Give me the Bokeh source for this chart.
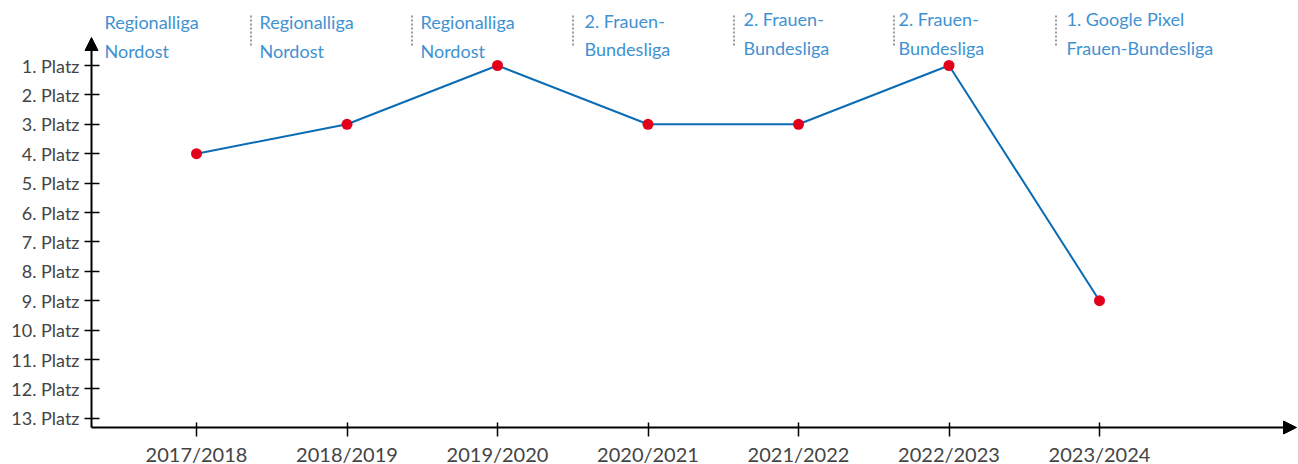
from bokeh.plotting import figure
from bokeh.models import Range1d, FixedTicker, Arrow, NormalHead
from bokeh.core.properties import value
from bokeh.embed import file_html
from bokeh.resources import INLINE

# ---------------- data ----------------
seasons = ["2017/2018", "2018/2019", "2019/2020", "2020/2021",
           "2021/2022", "2022/2023", "2023/2024"]
places = [4, 3, 1, 3, 3, 1, 9]
league_line1 = ["Regionalliga", "Regionalliga", "Regionalliga", "2. Frauen-",
                "2. Frauen-", "2. Frauen-", "1. Google Pixel"]
league_line2 = ["Nordost", "Nordost", "Nordost", "Bundesliga",
                "Bundesliga", "Bundesliga", "Frauen-Bundesliga"]
rank_ticks = [1, 2, 3, 4, 5, 6, 7, 8, 9, 10, 11, 12, 13]
rank_labels = ["1. Platz", "2. Platz", "3. Platz", "4. Platz", "5. Platz",
               "6. Platz", "7. Platz", "8. Platz", "9. Platz", "10. Platz",
               "11. Platz", "12. Platz", "13. Platz"]

# ---------------- layout ----------------
W, H = 1298, 464
X0PX, DX = 196, 150.5            # px of first season, px per season
Y1PX, DY = 65, 29.4              # px of rank 1, px per rank
AXIS_X, AXIS_Y = 91, 427         # px of the two axis lines


def xd(px):   # canvas px -> data x
    return (px - X0PX) / DX


def yd(py):   # canvas px -> data y
    return 1 + (py - Y1PX) / DY


label_px = [104, 259, 420, 584, 743, 898, 1066]
sep_px = [250.5, 411.5, 572.5, 733.5, 893.5, 1055.5]
base1_px = [21, 21, 21, 20, 18, 18, 18]
base2_px = [50, 50, 50, 48, 47, 47, 47]

BLUE_TXT = "#3f92d2"
LINE = "#0a6cb5"
RED = "#e2001a"
FONT = "Lato"

p = figure(width=W, height=H, output_backend="svg", toolbar_location=None,
           x_range=Range1d(xd(0), xd(W)),
           y_range=Range1d(yd(H), yd(0)),
           min_border_left=0, min_border_right=0, min_border_top=0,
           min_border_bottom=0)
p.outline_line_color = None
p.xgrid.grid_line_color = None
p.ygrid.grid_line_color = None
p.background_fill_color = "white"
p.border_fill_color = "white"

# axes, drawn at fixed positions inside the frame
p.yaxis.fixed_location = xd(AXIS_X)
p.xaxis.fixed_location = yd(AXIS_Y)
p.yaxis.ticker = FixedTicker(ticks=rank_ticks)
p.yaxis.major_label_overrides = {t: l for t, l in zip(rank_ticks, rank_labels)}
p.xaxis.ticker = FixedTicker(ticks=list(range(len(seasons))))
p.xaxis.major_label_overrides = {i: s for i, s in enumerate(seasons)}
for ax in (p.xaxis, p.yaxis):
    ax.axis_line_color = None
    ax.minor_tick_line_color = None
    ax.major_tick_line_color = "black"
    ax.major_tick_line_width = 1.5
    ax.major_label_text_font = FONT
    ax.major_label_text_color = "#444444"
p.yaxis.major_tick_in = 8
p.yaxis.major_tick_out = 7
p.yaxis.major_label_standoff = 5
p.yaxis.major_label_text_font_size = "18px"
p.xaxis.major_tick_in = 5
p.xaxis.major_tick_out = 9
p.xaxis.major_label_standoff = 5
p.xaxis.major_label_text_font_size = "20px"

# axis lines with arrow heads
x_ax = xd(AXIS_X)
y_ax = yd(AXIS_Y)
p.add_layout(Arrow(end=NormalHead(size=13, fill_color="black", line_color="black"),
                   x_start=x_ax, y_start=y_ax, x_end=x_ax, y_end=yd(37),
                   line_color="black", line_width=2))
p.add_layout(Arrow(end=NormalHead(size=13, fill_color="black", line_color="black"),
                   x_start=x_ax, y_start=y_ax, x_end=xd(1296), y_end=y_ax,
                   line_color="black", line_width=2))

# league labels and dotted separators
p.segment(x0=[xd(v) for v in sep_px], y0=[yd(15)] * len(sep_px),
          x1=[xd(v) for v in sep_px], y1=[yd(46)] * len(sep_px),
          line_color="#777777", line_width=1.5, line_dash="2 2")
p.text(x=[xd(v) for v in label_px], y=[yd(v) for v in base1_px], text=league_line1,
       text_font=value(FONT), text_font_size="18px", text_color=BLUE_TXT,
       text_align="left", text_baseline="alphabetic")
p.text(x=[xd(v) for v in label_px], y=[yd(v) for v in base2_px], text=league_line2,
       text_font=value(FONT), text_font_size="18px", text_color=BLUE_TXT,
       text_align="left", text_baseline="alphabetic")

# data
xs = list(range(len(seasons)))
p.line(xs, places, line_color=LINE, line_width=2)
p.scatter(xs, places, size=11, fill_color=RED, line_color=None)

open("out.html", "w").write(file_html(p, INLINE))
